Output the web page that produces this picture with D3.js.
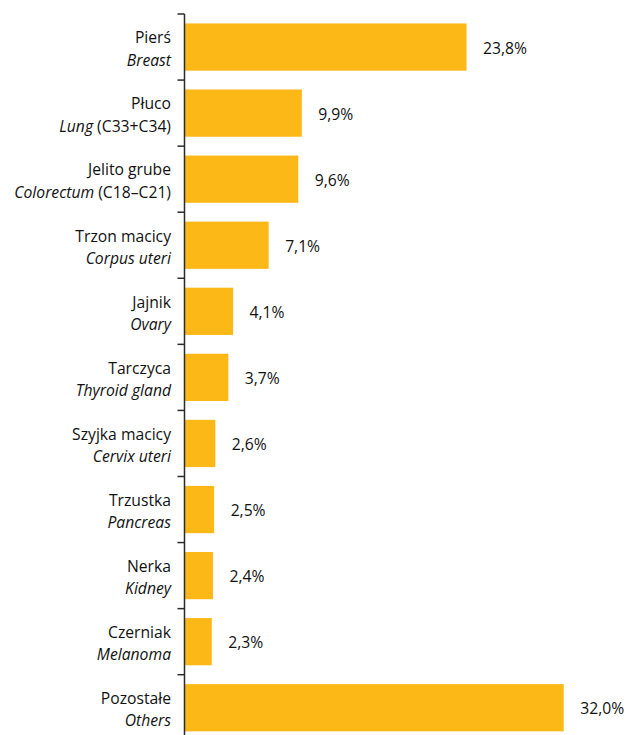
<!DOCTYPE html>
<html><head><meta charset="utf-8">
<script src="https://cdn.jsdelivr.net/npm/d3@7"></script>
<style>html,body{margin:0;padding:0;background:#fff}svg{display:block}</style>
</head><body>
<svg id="chart" width="627" height="735"></svg>
<script>
const namesPL = ["Pierś","Płuco","Jelito grube","Trzon macicy","Jajnik","Tarczyca","Szyjka macicy","Trzustka","Nerka","Czerniak","Pozostałe"];
const namesEN = ["Breast","Lung","Colorectum","Corpus uteri","Ovary","Thyroid gland","Cervix uteri","Pancreas","Kidney","Melanoma","Others"];
const codes = ["","(C33+C34)","(C18–C21)","","","","","","","",""];
const values = [23.8, 9.9, 9.6, 7.1, 4.1, 3.7, 2.6, 2.5, 2.4, 2.3, 32.0];
const valueLabels = ["23,8%","9,9%","9,6%","7,1%","4,1%","3,7%","2,6%","2,5%","2,4%","2,3%","32,0%"];

const svg = d3.select("#chart");
const font = "'Open Sans', sans-serif";
const fs = 15.7;
const x0 = 184.5;
const x = d3.scaleLinear().domain([0, 32.0]).range([x0, x0 + 32.0 * 11.85]);
const step = 66.07;
const y = d3.scaleBand().domain(d3.range(values.length))
  .range([14, 14 + step * values.length]).paddingInner(0.285).paddingOuter(0.1425);

svg.selectAll("rect.bar").data(values).join("rect")
  .attr("class","bar")
  .attr("x", x(0) + 0.5)
  .attr("y", (d,i) => y(i))
  .attr("width", d => x(d) - x(0) - 0.5)
  .attr("height", y.bandwidth())
  .attr("fill", "#FBB817");

// axis line and ticks at band boundaries
svg.append("line").attr("x1", x0).attr("x2", x0).attr("y1", 14).attr("y2", 14 + step*values.length)
  .attr("stroke", "#2b2b2b").attr("stroke-width", 1.5);
const bounds = d3.range(values.length + 1).map(i => y.range()[0] + i * y.step());
svg.selectAll("line.tick").data(bounds).join("line").attr("class","tick")
  .attr("x1", x0 - 7).attr("x2", x0).attr("y1", d => d).attr("y2", d => d)
  .attr("stroke", "#2b2b2b").attr("stroke-width", 1.5);

const labelX = 171;
const g = svg.selectAll("g.lab").data(values).join("g").attr("class","lab");
g.append("text")
  .attr("x", labelX).attr("y", (d,i) => y(i) + y.bandwidth()/2 - 3.7)
  .attr("text-anchor","end").attr("font-family", font).attr("font-size", fs).attr("fill","#111")
  .text((d,i) => namesPL[i]);
const t2 = g.append("text")
  .attr("x", labelX).attr("y", (d,i) => y(i) + y.bandwidth()/2 + 18.7)
  .attr("text-anchor","end").attr("font-family", font).attr("font-size", fs).attr("fill","#111");
t2.append("tspan").attr("font-style","italic").text((d,i) => namesEN[i]);
t2.append("tspan").text((d,i) => codes[i] ? " " + codes[i] : "");

svg.selectAll("text.val").data(values).join("text").attr("class","val")
  .attr("x", d => x(d) + 16.5)
  .attr("y", (d,i) => y(i) + y.bandwidth()/2 + 6.5)
  .attr("font-family", font).attr("font-size", fs).attr("fill","#111")
  .text((d,i) => valueLabels[i]);
</script>
</body></html>
